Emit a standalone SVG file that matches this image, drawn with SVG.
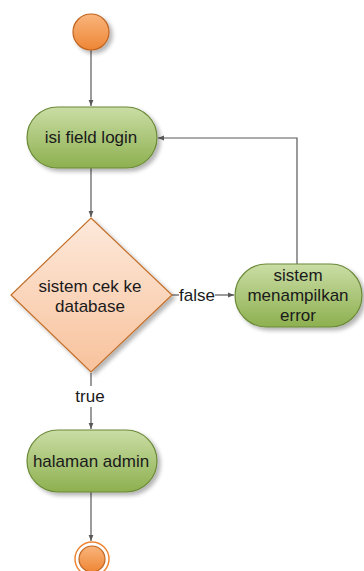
<svg xmlns="http://www.w3.org/2000/svg" width="364" height="571" viewBox="0 0 364 571">
<defs>
<linearGradient id="gGreen" x1="0" y1="0" x2="0" y2="1">
<stop offset="0" stop-color="#cadda5"/>
<stop offset="1" stop-color="#8db04f"/>
</linearGradient>
<linearGradient id="gOrange" x1="0" y1="0" x2="0" y2="1">
<stop offset="0" stop-color="#f9b57c"/>
<stop offset="1" stop-color="#ee8636"/>
</linearGradient>
<linearGradient id="gPeach" x1="0" y1="0" x2="0" y2="1">
<stop offset="0" stop-color="#fde9db"/>
<stop offset="1" stop-color="#f8c29c"/>
</linearGradient>
<filter id="sh" x="-20%" y="-20%" width="150%" height="150%">
<feGaussianBlur in="SourceAlpha" stdDeviation="2"/>
<feOffset dx="3" dy="3" result="b"/>
<feComponentTransfer><feFuncA type="linear" slope="0.3"/></feComponentTransfer>
<feMerge><feMergeNode/><feMergeNode in="SourceGraphic"/></feMerge>
</filter>
<marker id="arr" viewBox="0 0 10 10" refX="10" refY="5" markerWidth="6" markerHeight="6" orient="auto" markerUnits="userSpaceOnUse">
<path d="M0,1 L10,5 L0,9 z" fill="#595959"/>
</marker>
</defs>
<style>
.act{fill:url(#gGreen);stroke:#6b8a38;stroke-width:1.2}
.lbl{font-family:"Liberation Sans",Arial,sans-serif;font-size:17px;fill:#1a1a1a;text-anchor:middle}
.con{fill:none;stroke:#595959;stroke-width:1.2}
</style>
<g id="connectors">
<path class="con" d="M91,50 L91,106" marker-end="url(#arr)"/>
<path class="con" d="M91,168 L91,217" marker-end="url(#arr)"/>
<path class="con" d="M172,295 L179,295"/>
<path class="con" d="M215,295 L234,295" marker-end="url(#arr)"/>
<path class="con" d="M297,264 L297,138 L158,138" marker-end="url(#arr)"/>
<path class="con" d="M91,373 L91,386"/>
<path class="con" d="M91,407 L91,429" marker-end="url(#arr)"/>
<path class="con" d="M91,492 L91,541" marker-end="url(#arr)"/>
<text class="lbl" x="197" y="301">false</text>
<text class="lbl" x="90" y="402">true</text>
</g>
<g id="start">
<circle cx="91" cy="32" r="18" fill="url(#gOrange)" stroke="#c0641f" stroke-width="1.2" filter="url(#sh)"/>
</g>
<g id="isiFieldLogin">
<rect class="act" x="27" y="107" width="130" height="61" rx="30.5" filter="url(#sh)"/>
<text class="lbl" x="91" y="143">isi field login</text>
</g>
<g id="cekDatabase">
<polygon points="91,218 172,295 91,372 11,295" fill="url(#gPeach)" stroke="#c26f2a" stroke-width="1.2" filter="url(#sh)"/>
<text class="lbl" x="90" y="292">sistem cek ke</text>
<text class="lbl" x="90" y="312">database</text>
</g>
<g id="menampilkanError">
<rect class="act" x="235" y="264" width="127" height="63" rx="31.5" filter="url(#sh)"/>
<text class="lbl" x="298" y="281">sistem</text>
<text class="lbl" x="298" y="301">menampilkan</text>
<text class="lbl" x="298" y="321">error</text>
</g>
<g id="halamanAdmin">
<rect class="act" x="27" y="430" width="130" height="62" rx="31" filter="url(#sh)"/>
<text class="lbl" x="91" y="467">halaman admin</text>
</g>
<g id="end">
<circle cx="92" cy="559" r="17" fill="none" stroke="#ee8636" stroke-width="1.5"/>
<circle cx="92" cy="559" r="13" fill="url(#gOrange)" stroke="#c0641f" stroke-width="1.2"/>
</g>
</svg>
